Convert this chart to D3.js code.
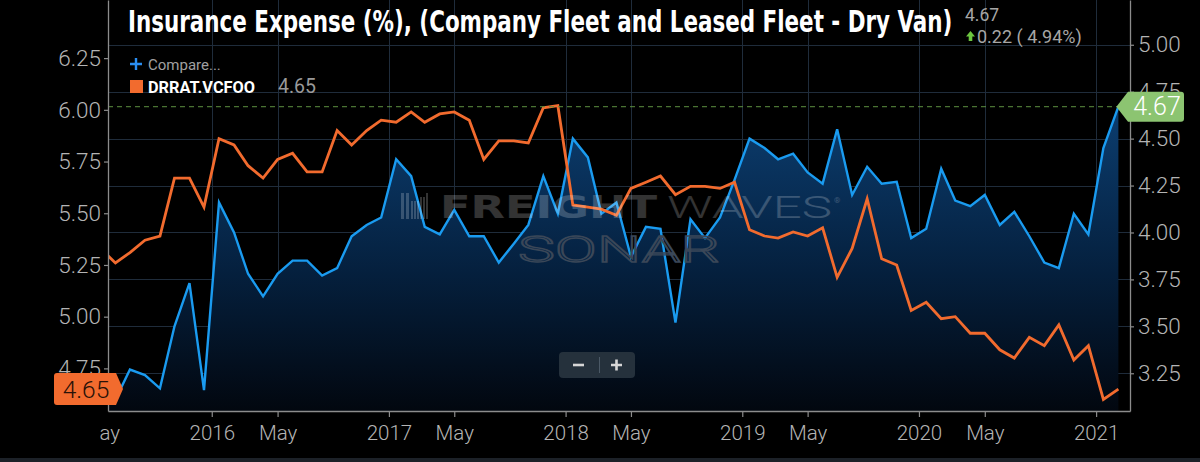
<!DOCTYPE html>
<html><head><meta charset="utf-8">
<script src="https://cdn.jsdelivr.net/npm/d3@7"></script>
<style>html,body{margin:0;padding:0;background:#000;overflow:hidden}</style>
</head><body><svg id="c" width="1200" height="462"></svg>
<script>
// ---------- DATA ----------
const months = [
 "2015-05","2015-06","2015-07","2015-08","2015-09","2015-10","2015-11","2015-12",
 "2016-01","2016-02","2016-03","2016-04","2016-05","2016-06","2016-07","2016-08","2016-09","2016-10","2016-11","2016-12",
 "2017-01","2017-02","2017-03","2017-04","2017-05","2017-06","2017-07","2017-08","2017-09","2017-10","2017-11","2017-12",
 "2018-01","2018-02","2018-03","2018-04","2018-05","2018-06","2018-07","2018-08","2018-09","2018-10","2018-11","2018-12",
 "2019-01","2019-02","2019-03","2019-04","2019-05","2019-06","2019-07","2019-08","2019-09","2019-10","2019-11","2019-12",
 "2020-01","2020-02","2020-03","2020-04","2020-05","2020-06","2020-07","2020-08","2020-09","2020-10","2020-11","2020-12",
 "2021-01","2021-02"];
// DRRAT.VCFOO (orange, left axis)
const drratValues = [
 5.33,5.26,5.31,5.37,5.39,5.67,5.67,5.53,
 5.86,5.83,5.73,5.67,5.76,5.79,5.70,5.70,5.90,5.83,5.90,5.95,
 5.94,5.99,5.94,5.98,5.99,5.95,5.76,5.85,5.85,5.84,6.01,6.02,
 5.54,5.53,5.52,5.49,5.62,5.65,5.68,5.59,5.63,5.63,5.62,5.65,
 5.42,5.39,5.38,5.41,5.39,5.43,5.19,5.33,5.57,5.28,5.25,5.03,
 5.07,4.99,5.00,4.92,4.92,4.84,4.80,4.90,4.86,4.96,4.79,4.86,
 4.60,4.65];
// Insurance Expense (%) - Company Fleet and Leased Fleet - Dry Van (blue area, right axis)
const insuranceValues = [
 3.10,3.11,3.27,3.24,3.17,3.50,3.73,3.16,
 4.16,4.00,3.78,3.66,3.78,3.85,3.85,3.77,3.81,3.98,4.04,4.08,
 4.39,4.30,4.03,3.99,4.12,3.98,3.98,3.84,3.94,4.04,4.30,4.10,
 4.50,4.40,4.10,4.16,3.87,4.03,4.02,3.52,4.07,3.97,4.08,4.28,
 4.50,4.45,4.39,4.42,4.32,4.26,4.55,4.20,4.35,4.26,4.27,3.97,
 4.02,4.34,4.17,4.14,4.20,4.04,4.11,3.98,3.84,3.81,4.10,3.99,
 4.45,4.67];
const leftTickValues = [4.75,5.00,5.25,5.50,5.75,6.00,6.25];
const rightTickValues = [3.25,3.50,3.75,4.00,4.25,4.50,4.75,5.00];
const xTickDates = ["2015-05-16","2016-01-01","2016-05-16","2017-01-01","2017-05-16","2018-01-01",
 "2018-05-16","2019-01-01","2019-05-16","2020-01-01","2020-05-16","2021-01-01"];
const titleText = "Insurance Expense (%), (Company Fleet and Leased Fleet - Dry Van)";
const legendCompare = "Compare...";
const legendSeries = "DRRAT.VCFOO";

// ---------- SETUP ----------
const svg = d3.select("#c");
const W = 1200, H = 462;
const M = {l:108, r:1130, t:0, b:411};
const FONT = "Roboto, 'Noto Sans', sans-serif";
const parseMonth = s => { const [y,m] = s.split("-"); return new Date(+y, +m-1, 16); };
const parseDay = d3.timeParse("%Y-%m-%d");
const dates = months.map(parseMonth);
const orange = months.map((m,i)=>({d:dates[i], v:drratValues[i]}));
const blue = months.map((m,i)=>({d:dates[i], v:insuranceValues[i]}));

const x = d3.scaleTime().domain([new Date(2015,4,31,16), new Date(2021,2,12)]).range([M.l, M.r]);
const yL = d3.scaleLinear().domain([4.544, 6.531]).range([M.b, M.t]);
const yR = d3.scaleLinear().domain([3.049, 5.2385]).range([M.b, M.t]);

svg.append("rect").attr("width",W).attr("height",H).attr("fill","#000");
const defs = svg.append("defs");
defs.append("clipPath").attr("id","plot").append("rect")
  .attr("x",M.l).attr("y",M.t).attr("width",M.r-M.l).attr("height",M.b-M.t);
// x-axis clip (in the axis group's local coordinates)
defs.append("clipPath").attr("id","xclip").append("rect")
  .attr("x",100).attr("y",-2).attr("width",W).attr("height",60);
const grad = defs.append("linearGradient").attr("id","ag")
  .attr("gradientUnits","userSpaceOnUse").attr("x1",0).attr("x2",0).attr("y1",100).attr("y2",M.b);
grad.append("stop").attr("offset",0).attr("stop-color","#0c3f72");
grad.append("stop").attr("offset",0.55).attr("stop-color","#05203e");
grad.append("stop").attr("offset",1).attr("stop-color","#02070f");

// ---------- GRID ----------
const tickDates = xTickDates.map(parseDay);
const grid = svg.append("g").attr("stroke","#1f2c3b").attr("stroke-width",1);
grid.selectAll(".gh").data(rightTickValues).join("line")
  .attr("x1",M.l).attr("x2",M.r).attr("y1",d=>Math.round(yR(d))+0.5).attr("y2",d=>Math.round(yR(d))+0.5);
grid.selectAll(".gv").data(tickDates.filter(d=>x(d)>=M.l)).join("line")
  .attr("y1",M.t).attr("y2",M.b).attr("x1",d=>Math.round(x(d))+0.5).attr("x2",d=>Math.round(x(d))+0.5);

// ---------- AREA ----------
const plot = svg.append("g").attr("clip-path","url(#plot)");
plot.append("path").datum(blue)
  .attr("d", d3.area().x(d=>x(d.d)).y0(M.b).y1(d=>yR(d.v)))
  .attr("fill","url(#ag)");

// ---------- WATERMARK ----------
const wm = svg.append("g");
const logoBars = [[401,3,26],[406,3,26],[411,2,18],[414,2,18],[417,2,18],[420,2,22],[423,2,22],[426,2,26]];
wm.selectAll("rect").data(logoBars).join("rect")
  .attr("x",d=>d[0]).attr("y",d=>219-d[2]).attr("width",d=>d[1]).attr("height",d=>d[2])
  .attr("fill","#ffffff").attr("opacity",0.2);
wm.append("text").attr("x",440).attr("y",218).attr("textLength",217).attr("lengthAdjust","spacingAndGlyphs")
  .attr("font-family","'DejaVu Sans', sans-serif").attr("font-weight",900).attr("font-size",32)
  .attr("fill","#ffffff").attr("opacity",0.2).text("FREIGHT");
wm.append("text").attr("x",667).attr("y",218).attr("textLength",165).attr("lengthAdjust","spacingAndGlyphs")
  .attr("font-family",FONT).attr("font-weight",300).attr("font-size",32)
  .attr("fill","#ffffff").attr("opacity",0.2).text("WAVES");
wm.append("text").attr("x",834).attr("y",203).attr("font-size",8).attr("font-family",FONT)
  .attr("fill","#ffffff").attr("opacity",0.2).text("®");
wm.append("text").attr("x",518).attr("y",262).attr("textLength",202).attr("lengthAdjust","spacingAndGlyphs")
  .attr("font-family",FONT).attr("font-weight",300).attr("font-size",37)
  .attr("fill","none").attr("stroke","#3a4758").attr("stroke-width",1.4).text("SONAR");

// ---------- LINES ----------
const dashY = yR(insuranceValues[insuranceValues.length-1]);
const lastX = x(dates[dates.length-1]);
svg.append("line").attr("x1",M.l).attr("x2",lastX).attr("y1",dashY).attr("y2",dashY)
  .attr("stroke","#5e9141").attr("stroke-width",1).attr("stroke-dasharray","5,4");
plot.append("path").datum(blue)
  .attr("d", d3.line().x(d=>x(d.d)).y(d=>yR(d.v)))
  .attr("fill","none").attr("stroke","#1a9bf0").attr("stroke-width",2.4).attr("stroke-linejoin","miter");
plot.append("path").datum(orange)
  .attr("d", d3.line().x(d=>x(d.d)).y(d=>yL(d.v)))
  .attr("fill","none").attr("stroke","#f26b2e").attr("stroke-width",2.8).attr("stroke-linejoin","miter");

// ---------- AXES ----------
function styleAxis(g){
  g.select(".domain").attr("stroke","#8c8c8c").attr("stroke-width",1.3);
  g.selectAll(".tick line").attr("stroke","#8c8c8c").attr("stroke-width",1.2);
  g.selectAll(".tick text").attr("fill","#b4b4b4").attr("font-family",FONT).attr("font-weight",300);
}
const gL = svg.append("g").attr("transform",`translate(${M.l},0)`)
  .call(d3.axisLeft(yL).tickValues(leftTickValues).tickFormat(d3.format(".2f")).tickSize(4).tickPadding(3).tickSizeOuter(0));
styleAxis(gL); gL.selectAll(".tick text").attr("font-size",22.5);
const gR = svg.append("g").attr("transform",`translate(${M.r},0)`)
  .call(d3.axisRight(yR).tickValues(rightTickValues).tickFormat(d3.format(".2f")).tickSize(4).tickPadding(4).tickSizeOuter(0));
styleAxis(gR); gR.selectAll(".tick text").attr("font-size",22.5);
const gX = svg.append("g").attr("transform",`translate(0,${M.b})`).attr("clip-path","url(#xclip)")
  .call(d3.axisBottom(x).tickValues(tickDates).tickSize(6).tickPadding(8).tickSizeOuter(0)
     .tickFormat(d => d.getMonth()===0 ? d3.timeFormat("%Y")(d) : d3.timeFormat("%b")(d)));
styleAxis(gX); gX.selectAll(".tick text").attr("font-size",20.5);
gX.selectAll(".tick line").attr("display", d => x(d) < M.l ? "none" : null);

// ---------- TITLE & HEADER ----------
// Title: condensed bold, fitted to the reference width (825px) and ~30px tall letters
const TITLE_W = 825, TITLE_FS = 30;
const title = svg.append("text").attr("x",0).attr("y",0)
  .attr("font-family","'Liberation Sans Narrow','DejaVu Sans Condensed','Roboto',sans-serif")
  .attr("font-weight",700).attr("font-size",TITLE_FS).attr("fill","#ffffff").text(titleText);
const natW = title.node().getComputedTextLength();
const fs = natW > TITLE_W ? TITLE_FS*TITLE_W/natW : TITLE_FS;
title.attr("font-size",fs).attr("transform",`translate(128,32) scale(1,${TITLE_FS/fs})`);

const lastB = insuranceValues[insuranceValues.length-1], prevB = insuranceValues[insuranceValues.length-2];
const chg = lastB - prevB;
svg.append("text").attr("x",965).attr("y",21).attr("font-family",FONT).attr("font-size",17.5)
  .attr("fill","#a6a6a6").text(d3.format(".2f")(lastB));
svg.append("path").attr("d","M970.5,31 L975,36.5 L972.3,36.5 L972.3,41 L968.7,41 L968.7,36.5 L966,36.5 Z").attr("fill","#6cc640");
svg.append("text").attr("x",977).attr("y",42.5).attr("font-family",FONT).attr("font-size",18)
  .attr("fill","#a6a6a6").text(`${d3.format(".2f")(chg)} ( ${d3.format(".2f")(chg/prevB*100)}%)`);

// ---------- LEGEND ----------
svg.append("path").attr("d","M136,58 V70 M130,64 H142").attr("stroke","#2a8df0").attr("stroke-width",2.4);
svg.append("text").attr("x",148).attr("y",70).attr("font-family",FONT).attr("font-size",15)
  .attr("fill","#a0a0a0").text(legendCompare);
svg.append("rect").attr("x",130).attr("y",80).attr("width",13).attr("height",13).attr("fill","#f26b2e");
svg.append("text").attr("x",148).attr("y",92.5).attr("textLength",107).attr("lengthAdjust","spacingAndGlyphs")
  .attr("font-family","'Liberation Sans Narrow','Roboto',sans-serif").attr("font-weight",700).attr("font-size",17)
  .attr("fill","#ffffff").text(legendSeries);
svg.append("text").attr("x",278).attr("y",93).attr("font-family",FONT).attr("font-size",19.5)
  .attr("fill","#9a9a9a").text(d3.format(".2f")(drratValues[drratValues.length-1]));

// ---------- VALUE TAGS ----------
const oy = yL(drratValues[drratValues.length-1]);
svg.append("path").attr("d",`M57,${oy-16} H116 L123,${oy} L116,${oy+16} H57 Q54,${oy+16} 54,${oy+13} V${oy-13} Q54,${oy-16} 57,${oy-16} Z`)
  .attr("fill","#f26b2e");
svg.append("text").attr("x",86).attr("y",oy).attr("dy","0.35em").attr("text-anchor","middle")
  .attr("font-family",FONT).attr("font-weight",300).attr("font-size",24.5).attr("fill","#2a1208")
  .text(d3.format(".2f")(drratValues[drratValues.length-1]));
const by = yR(lastB);
svg.append("path").attr("d",`M${lastX-2},${by} L1128,${by-15} H1181 Q1184,${by-15} 1184,${by-12} V${by+12} Q1184,${by+15} 1181,${by+15} H1128 Z`)
  .attr("fill","#8cc471");
svg.append("text").attr("x",1157).attr("y",by).attr("dy","0.35em").attr("text-anchor","middle")
  .attr("font-family",FONT).attr("font-weight",300).attr("font-size",25).attr("fill","#ffffff")
  .text(d3.format(".2f")(lastB));

// ---------- ZOOM BUTTONS ----------
svg.append("rect").attr("x",559).attr("y",352).attr("width",76).attr("height",26).attr("rx",4).attr("fill","#25313c");
svg.append("line").attr("x1",599.5).attr("x2",599.5).attr("y1",357).attr("y2",373).attr("stroke","#4b5966");
svg.append("path").attr("d","M573,365 H584").attr("stroke","#d6d6d6").attr("stroke-width",2.6);
svg.append("path").attr("d","M611,365 H622 M616.5,359.5 V370.5").attr("stroke","#d6d6d6").attr("stroke-width",2.6);

// bottom strip
svg.append("rect").attr("x",0).attr("y",458).attr("width",W).attr("height",4).attr("fill","#1c2128");
</script></body></html>
